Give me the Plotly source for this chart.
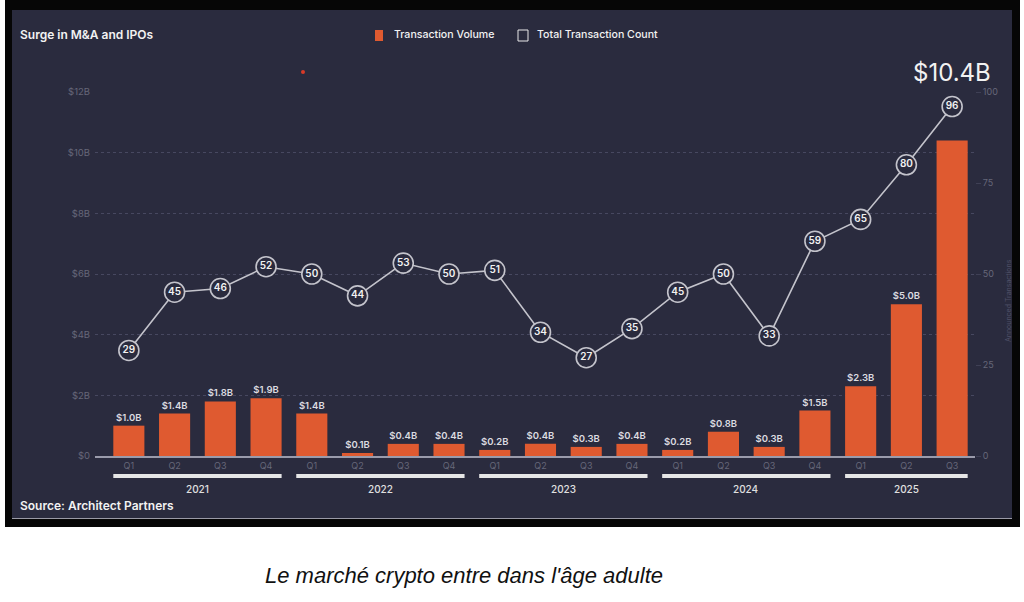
import plotly.graph_objects as go

# ---------------- data ----------------
quarters = ["Q1", "Q2", "Q3", "Q4", "Q1", "Q2", "Q3", "Q4", "Q1", "Q2", "Q3", "Q4",
            "Q1", "Q2", "Q3", "Q4", "Q1", "Q2", "Q3"]
years = ["2021", "2022", "2023", "2024", "2025"]
quarters_per_year = [4, 4, 4, 4, 3]
volume_b = [1.0, 1.4, 1.8, 1.9, 1.4, 0.1, 0.4, 0.4, 0.2, 0.4, 0.3, 0.4,
            0.2, 0.8, 0.3, 1.5, 2.3, 5.0, 10.4]
tx_count = [29, 45, 46, 52, 50, 44, 53, 50, 51, 34, 27, 35,
            45, 50, 33, 59, 65, 80, 96]
left_ticks = [0, 2, 4, 6, 8, 10, 12]
left_tick_text = ["$0", "$2B", "$4B", "$6B", "$8B", "$10B", "$12B"]
right_ticks = [0, 25, 50, 75, 100]

# ---------------- style ----------------
NAVY = "#2a2b3e"
BAR = "#df5a30"
LINE = "#c4c4cc"
GRID = "#474860"
GRAYTXT = "#666779"
WHITE = "#f2f2f2"
FONT = "Inter"

W, H = 1024, 602
L, R, T, B = 95, 975, 92, 456   # plot area in pixels


def px(xp):
    return (xp - L) / (R - L)


def py(yp):
    return (B - yp) / (B - T)


idx = list(range(len(quarters)))
bar_text = [f"${v:.1f}B" for v in volume_b[:-1]] + [""]

fig = go.Figure()
fig.add_trace(go.Bar(
    x=idx, y=volume_b, marker=dict(color=BAR, line=dict(width=0)),
    text=bar_text, textposition="outside", constraintext="none",
    textfont=dict(family=FONT, size=9.5, color="#dcdce0", weight=600),
    cliponaxis=False, showlegend=False, hoverinfo="skip",
))
fig.add_trace(go.Scatter(
    x=idx, y=tx_count, yaxis="y2", mode="lines+markers+text",
    line=dict(color=LINE, width=1.6),
    marker=dict(size=20, color=NAVY, line=dict(color=LINE, width=1.6)),
    text=[str(c) for c in tx_count], textposition="middle center",
    textfont=dict(family=FONT, size=10, color=WHITE, weight=600),
    cliponaxis=False, showlegend=False, hoverinfo="skip",
))

shapes = [
    # outer black frame and navy panel
    dict(type="rect", xref="paper", yref="paper", x0=px(5), x1=px(1020), y0=py(527), y1=py(0),
         fillcolor="#060606", line=dict(width=0), layer="below"),
    dict(type="rect", xref="paper", yref="paper", x0=px(12), x1=px(1012), y0=py(518), y1=py(10),
         fillcolor=NAVY, line=dict(width=0), layer="below"),
    dict(type="line", xref="paper", yref="paper", x0=px(12), x1=px(1012), y0=py(518.5), y1=py(518.5),
         line=dict(color="#9a9aa6", width=1.2), layer="below"),
    # legend symbols
    dict(type="rect", xref="paper", yref="paper", x0=px(375), x1=px(383), y0=py(41), y1=py(30),
         fillcolor=BAR, line=dict(width=0)),
    dict(type="rect", xref="paper", yref="paper", x0=px(518), x1=px(528), y0=py(41), y1=py(30),
         fillcolor="rgba(0,0,0,0)", line=dict(color="#e8e8e8", width=1)),
    # small red dot
    dict(type="circle", xref="paper", yref="paper", x0=px(301), x1=px(305), y0=py(74), y1=py(70),
         fillcolor="#d83a28", line=dict(width=0)),
]

annotations = [
    dict(text="Surge in M&A and IPOs", x=px(18), y=py(35), xref="paper", yref="paper",
         xanchor="left", yanchor="middle", showarrow=False,
         font=dict(family=FONT, size=12, color=WHITE, weight=600)),
    dict(text="Transaction Volume", x=px(392), y=py(35), xref="paper", yref="paper",
         xanchor="left", yanchor="middle", showarrow=False,
         font=dict(family=FONT, size=10.6, color=WHITE, weight=500)),
    dict(text="Total Transaction Count", x=px(535), y=py(35), xref="paper", yref="paper",
         xanchor="left", yanchor="middle", showarrow=False,
         font=dict(family=FONT, size=10.6, color=WHITE, weight=500)),
    dict(text="Source: Architect Partners", x=px(18), y=py(505), xref="paper", yref="paper",
         xanchor="left", yanchor="middle", showarrow=False,
         font=dict(family=FONT, size=12, color=WHITE, weight=600)),
    dict(text=f"${volume_b[-1]:.1f}B", x=idx[-1], y=py(73), xref="x", yref="paper",
         xanchor="center", yanchor="middle", showarrow=False,
         font=dict(family=FONT, size=24, color=WHITE)),
    dict(text="Announced Transactions", x=px(1008), y=py(301), xref="paper", yref="paper",
         textangle=-90, xanchor="center", yanchor="middle", showarrow=False,
         font=dict(family=FONT, size=7, color="#4f5066")),
    dict(text="<i>Le marché crypto entre dans l'âge adulte</i>", x=px(263), y=py(575),
         xref="paper", yref="paper", xanchor="left", yanchor="middle", showarrow=False,
         font=dict(family="Liberation Sans", size=22, color="#111111")),
]

start = 0
for yr, n in zip(years, quarters_per_year):
    end = start + n - 1
    shapes.append(dict(type="line", xref="x", yref="paper", x0=start - 0.34, x1=end + 0.34,
                       y0=py(476), y1=py(476), line=dict(color="#e6e6e6", width=4)))
    annotations.append(dict(text=yr, x=(start + end) / 2, y=py(489), xref="x", yref="paper",
                            xanchor="center", yanchor="middle", showarrow=False,
                            font=dict(family=FONT, size=10, color="#e0e0e0", weight=500)))
    start = end + 1

fig.update_layout(
    width=W, height=H,
    margin=dict(l=L, r=W - R, t=T, b=H - B, pad=0),
    paper_bgcolor="white", plot_bgcolor="rgba(0,0,0,0)",
    bargap=0.32, showlegend=False,
    font=dict(family=FONT),
    xaxis=dict(range=[-0.74, 18.5], tickvals=idx, ticktext=quarters, ticks="",
               tickfont=dict(family=FONT, size=9, color=GRAYTXT),
               showgrid=False, zeroline=False, showline=True, linecolor="#9a9bab", linewidth=1.5,
               fixedrange=True),
    yaxis=dict(range=[0, 12], tickvals=left_ticks, ticktext=left_tick_text,
               tickfont=dict(family=FONT, size=9.5, color=GRAYTXT), ticklabelstandoff=4,
               showgrid=True, gridcolor=GRID, griddash="dot", gridwidth=1,
               zeroline=False, showline=False, ticks="", fixedrange=True),
    yaxis2=dict(range=[0, 100], tickvals=right_ticks, overlaying="y", side="right",
                tickfont=dict(family=FONT, size=9, color=GRAYTXT),
                showgrid=False, zeroline=False, showline=False,
                ticks="outside", ticklen=5, tickcolor="#3f4055", fixedrange=True),
    shapes=shapes, annotations=annotations,
)

fig.write_html("out.html", config={"displayModeBar": False},
               post_script="document.body.style.margin='0';document.body.style.overflow='hidden';")
